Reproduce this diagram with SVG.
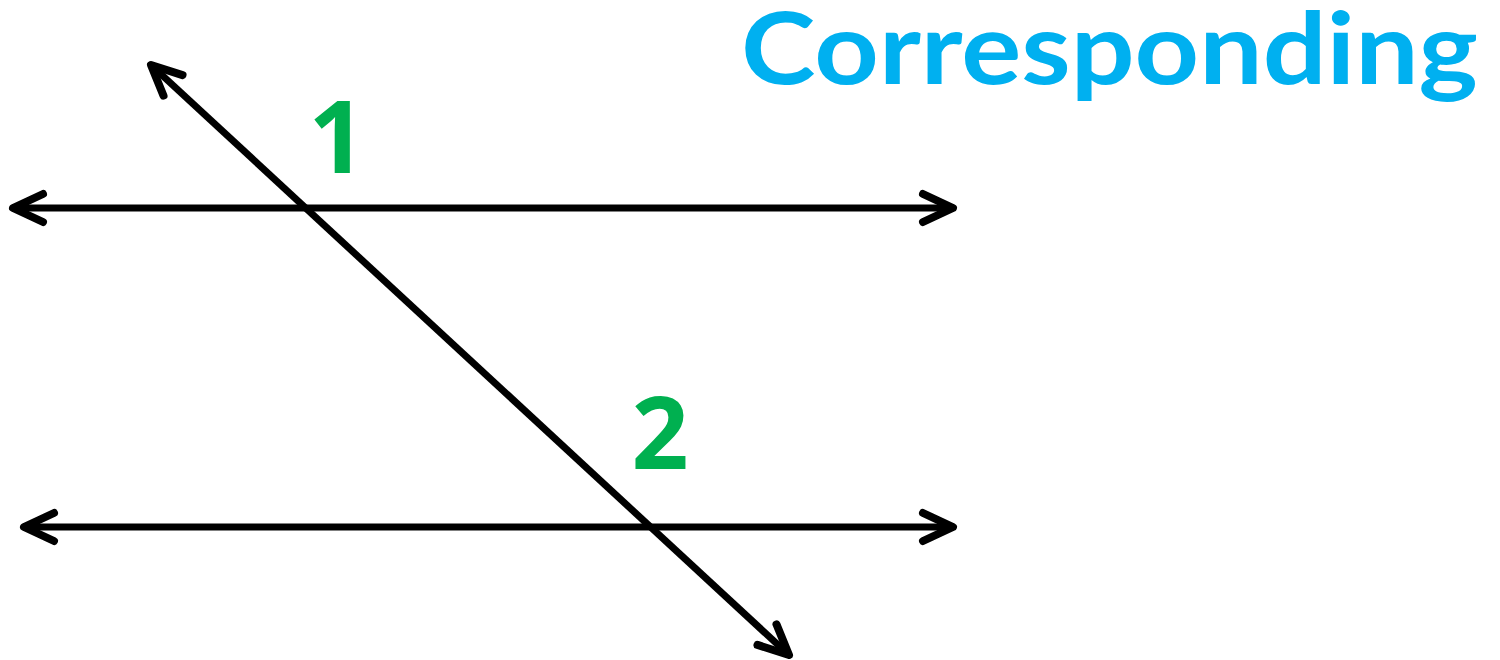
<svg xmlns="http://www.w3.org/2000/svg" width="1500" height="660" viewBox="0 0 1500 660">
<style>
.ln{stroke:#000;stroke-width:7;fill:none}
.num{font-family:"Open Sans","Liberation Sans",sans-serif;font-weight:700;fill:#00B050;text-anchor:middle}
.title{font-family:"Lato","Liberation Sans",sans-serif;font-weight:700;fill:#00B0F0}
</style>
<defs>
<marker id="ah" markerUnits="userSpaceOnUse" orient="auto-start-reverse" refX="0" refY="0" overflow="visible">
<path d="M-30,-14 L0,0 L-30,14" fill="none" stroke="#000" stroke-width="8" stroke-linecap="round" stroke-linejoin="round"/>
</marker>
</defs>
<rect width="1500" height="660" fill="#fff"/>
<g id="connectors">
<line class="ln" x1="13" y1="208" x2="953" y2="208" marker-start="url(#ah)" marker-end="url(#ah)"/>
<line class="ln" x1="24" y1="527" x2="953" y2="527" marker-start="url(#ah)" marker-end="url(#ah)"/>
<line class="ln" x1="151" y1="65" x2="789" y2="655" marker-start="url(#ah)" marker-end="url(#ah)"/>
</g>
<g id="label1"><text class="num" x="337" y="173" font-size="100">1</text></g>
<g id="label2"><text class="num" x="660" y="469" font-size="100">2</text></g>
<g id="title"><text class="title" x="741" y="84" font-size="100" textLength="737" lengthAdjust="spacingAndGlyphs">Corresponding</text></g>
</svg>
